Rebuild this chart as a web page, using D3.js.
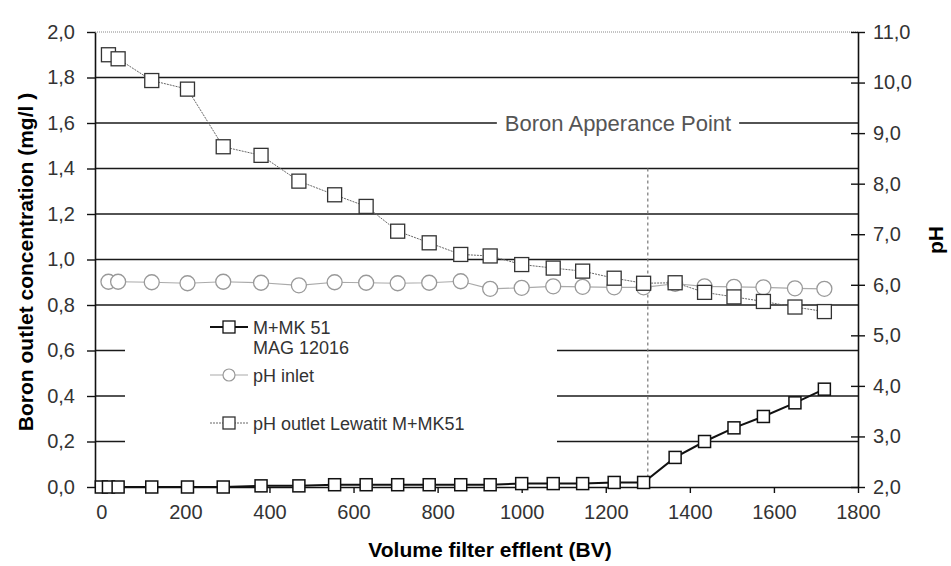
<!DOCTYPE html>
<html>
<head>
<meta charset="utf-8">
<script src="https://cdn.jsdelivr.net/npm/d3@7"></script>
<style>
  body { margin: 0; background: #fff; }
  svg text { font-family: "Liberation Sans", Arial, sans-serif; }
</style>
</head>
<body>
<svg id="chart" width="951" height="566"></svg>
<script>

// Boron breakthrough
var volume = [0, 17, 40, 120, 205, 290, 380, 470, 555, 630, 705, 780, 855, 925, 1000, 1075, 1145, 1220, 1290, 1365, 1435, 1505, 1575, 1650, 1720];
var boron = [0.00, 0.00, 0.00, 0.00, 0.00, 0.00, 0.005, 0.005, 0.01, 0.01, 0.01, 0.01, 0.01, 0.01, 0.015, 0.015, 0.015, 0.02, 0.02, 0.13, 0.20, 0.26, 0.31, 0.37, 0.43];

// pH series start at the second sample
var phVolume = [17, 40, 120, 205, 290, 380, 470, 555, 630, 705, 780, 855, 925, 1000, 1075, 1145, 1220, 1290, 1365, 1435, 1505, 1575, 1650, 1720];
var phInlet = [6.06, 6.06, 6.05, 6.03, 6.06, 6.04, 5.99, 6.05, 6.04, 6.03, 6.04, 6.07, 5.92, 5.94, 5.97, 5.96, 5.95, 5.95, 6.02, 5.97, 5.96, 5.95, 5.93, 5.92];
var phOutlet = [10.55, 10.47, 10.04, 9.87, 8.73, 8.56, 8.05, 7.78, 7.55, 7.06, 6.83, 6.60, 6.57, 6.40, 6.33, 6.27, 6.13, 6.03, 6.04, 5.85, 5.76, 5.67, 5.56, 5.47];

var boronTicks = [0, 0.2, 0.4, 0.6, 0.8, 1.0, 1.2, 1.4, 1.6, 1.8, 2.0];
var phTicks = [2, 3, 4, 5, 6, 7, 8, 9, 10, 11];
var volumeTicks = [0, 200, 400, 600, 800, 1000, 1200, 1400, 1600, 1800];
var gridValues = [0.2, 0.4, 0.6, 0.8, 1.0, 1.2, 1.4, 1.6, 1.8];

var appearanceVolume = 1300;
var appearanceLabel = "Boron Apperance Point";
var legendLabels = [["M+MK 51", "MAG 12016"], ["pH inlet"], ["pH outlet Lewatit M+MK51"]];

var svg = d3.select("#chart");
var plot = {left: 95, right: 858, top: 32, bottom: 487};

var x = d3.scaleLinear().domain([-15, 1800]).range([plot.left, plot.right]);
var yB = d3.scaleLinear().domain([0, 2]).range([plot.bottom, plot.top]);
var yP = d3.scaleLinear().domain([2, 11]).range([plot.bottom, plot.top]);

var comma = function(d) { return d3.format(".1f")(d).replace(".", ","); };

// horizontal grid lines
svg.append("g")
    .selectAll("line")
    .data(gridValues).enter()
  .append("line")
    .attr("x1", plot.left)
    .attr("x2", plot.right)
    .attr("y1", function(d) { return yB(d); })
    .attr("y2", function(d) { return yB(d); })
    .style("stroke", "#1a1a1a")
    .style("stroke-width", 1.6);

// dotted top border
svg.append("line")
    .attr("x1", plot.left).attr("x2", plot.right)
    .attr("y1", yB(2)).attr("y2", yB(2))
    .style("stroke", "#888")
    .style("stroke-width", 1)
    .style("stroke-dasharray", "1,1");

// legend background hides the middle of the lower grid lines
svg.append("rect")
    .attr("x", 125)
    .attr("y", 309)
    .attr("width", 432)
    .attr("height", 155)
    .style("fill", "#fff");

// breakthrough marker
svg.append("line")
    .attr("x1", x(appearanceVolume)).attr("x2", x(appearanceVolume))
    .attr("y1", yB(1.4)).attr("y2", yB(0))
    .style("stroke", "#777")
    .style("stroke-width", 1.2)
    .style("stroke-dasharray", "3,3");

// label sitting on the 1.6 grid line
var apLabel = svg.append("text")
    .attr("x", 618)
    .attr("y", yB(1.6))
    .attr("dy", "0.35em")
    .attr("text-anchor", "middle")
    .style("font-size", "22px")
    .style("fill", "#555")
    .text(appearanceLabel);
var bb = apLabel.node().getBBox();
svg.insert("rect", function() { return apLabel.node(); })
    .attr("x", bb.x - 8)
    .attr("y", bb.y)
    .attr("width", bb.width + 16)
    .attr("height", bb.height)
    .style("fill", "#fff");

// axes
var leftAxis = svg.append("g")
    .attr("transform", "translate(" + plot.left + ",0)")
    .call(d3.axisLeft(yB).tickValues(boronTicks).tickFormat(comma).tickSize(8).tickPadding(12).tickSizeOuter(0));

var rightAxis = svg.append("g")
    .attr("transform", "translate(" + plot.right + ",0)")
    .call(d3.axisRight(yP).tickValues(phTicks).tickFormat(comma).tickSize(7).tickPadding(8).tickSizeOuter(0));
rightAxis.selectAll(".tick line").attr("x1", -7);

var bottomAxis = svg.append("g")
    .attr("transform", "translate(0," + plot.bottom + ")")
    .call(d3.axisBottom(x).tickValues(volumeTicks).tickFormat(d3.format("d")).tickSize(6).tickPadding(12).tickSizeOuter(0));

[leftAxis, rightAxis, bottomAxis].forEach(function(a) {
  a.select(".domain").style("stroke", "#111").style("stroke-width", 1.6);
  a.selectAll(".tick line").style("stroke", "#111").style("stroke-width", 1.4);
  a.selectAll(".tick text")
      .style("font-size", "20px")
      .style("fill", "#333")
      .style("font-family", "'Liberation Sans', Arial, sans-serif");
});

// axis titles
svg.append("text")
    .attr("transform", "translate(33,262) rotate(-90)")
    .attr("text-anchor", "middle")
    .style("font-size", "21px")
    .style("font-weight", "bold")
    .text("Boron outlet concentration (mg/l )");

svg.append("text")
    .attr("transform", "translate(943,240) rotate(-90)")
    .attr("text-anchor", "middle")
    .style("font-size", "21px")
    .style("font-weight", "bold")
    .text("pH");

svg.append("text")
    .attr("x", 490)
    .attr("y", 557)
    .attr("text-anchor", "middle")
    .style("font-size", "21px")
    .style("font-weight", "bold")
    .text("Volume filter efflent (BV)");

// series
var inletLine = d3.line()
    .x(function(d, i) { return x(phVolume[i]); })
    .y(function(d) { return yP(d); });

svg.append("path")
    .datum(phInlet)
    .attr("d", inletLine)
    .style("fill", "none")
    .style("stroke", "#aaa")
    .style("stroke-width", 1.2);

svg.append("g")
    .selectAll("circle")
    .data(phInlet).enter()
  .append("circle")
    .attr("cx", function(d, i) { return x(phVolume[i]); })
    .attr("cy", function(d) { return yP(d); })
    .attr("r", 7.5)
    .style("fill", "#fff")
    .style("stroke", "#999")
    .style("stroke-width", 1.3);

svg.append("path")
    .datum(phOutlet)
    .attr("d", inletLine)
    .style("fill", "none")
    .style("stroke", "#666")
    .style("stroke-width", 1)
    .style("stroke-dasharray", "2,1");

svg.append("g")
    .selectAll("rect")
    .data(phOutlet).enter()
  .append("rect")
    .attr("x", function(d, i) { return x(phVolume[i]) - 7; })
    .attr("y", function(d) { return yP(d) - 7; })
    .attr("width", 14)
    .attr("height", 14)
    .style("fill", "#fff")
    .style("stroke", "#333")
    .style("stroke-width", 1.3);

var boronLine = d3.line()
    .x(function(d, i) { return x(volume[i]); })
    .y(function(d) { return yB(d); });

svg.append("path")
    .datum(boron)
    .attr("d", boronLine)
    .style("fill", "none")
    .style("stroke", "#111")
    .style("stroke-width", 2);

svg.append("g")
    .selectAll("rect")
    .data(boron).enter()
  .append("rect")
    .attr("x", function(d, i) { return x(volume[i]) - 6; })
    .attr("y", function(d) { return yB(d) - 6; })
    .attr("width", 12)
    .attr("height", 12)
    .style("fill", "#fff")
    .style("stroke", "#111")
    .style("stroke-width", 1.5);

// legend
var legendY = [327, 375, 423];
var legendStyle = [
  {stroke: "#111", width: 2.2, dash: null, mark: "square", markStroke: "#111"},
  {stroke: "#aaa", width: 1.2, dash: null, mark: "circle", markStroke: "#999"},
  {stroke: "#666", width: 1, dash: "2,1", mark: "square", markStroke: "#333"}
];

var legend = svg.append("g").attr("class", "legend");

legendLabels.forEach(function(lines, i) {
  var st = legendStyle[i];
  var cy = legendY[i];
  legend.append("line")
      .attr("x1", 210).attr("x2", 248)
      .attr("y1", cy).attr("y2", cy)
      .style("stroke", st.stroke)
      .style("stroke-width", st.width)
      .style("stroke-dasharray", st.dash);
  if (st.mark == "square") {
    legend.append("rect")
        .attr("x", 223).attr("y", cy - 6)
        .attr("width", 12).attr("height", 12)
        .style("fill", "#fff")
        .style("stroke", st.markStroke)
        .style("stroke-width", 1.3);
  } else {
    legend.append("circle")
        .attr("cx", 229).attr("cy", cy)
        .attr("r", 6)
        .style("fill", "#fff")
        .style("stroke", st.markStroke)
        .style("stroke-width", 1.2);
  }
  legend.append("text")
      .attr("x", 253)
      .attr("y", cy + 7)
      .style("font-size", "18px")
      .style("fill", "#333")
      .selectAll("tspan")
      .data(lines).enter()
    .append("tspan")
      .attr("x", 253)
      .attr("dy", function(d, j) { return j == 0 ? 0 : 20; })
      .text(function(d) { return d; });
});

</script>
</body>
</html>
